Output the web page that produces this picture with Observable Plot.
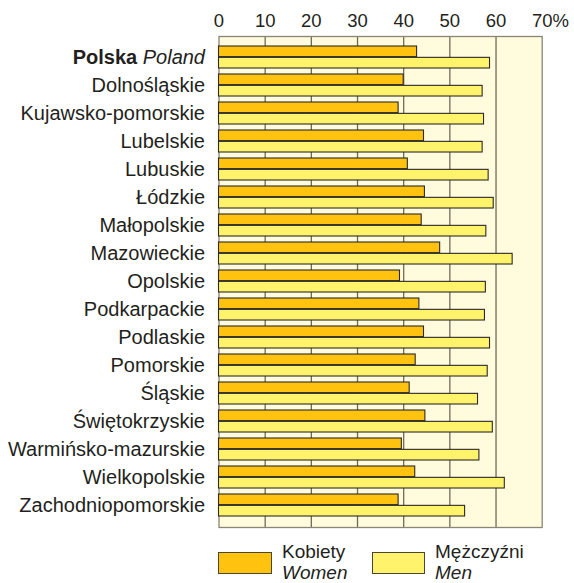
<!DOCTYPE html>
<html><head><meta charset="utf-8">
<script src="https://cdn.jsdelivr.net/npm/d3@7"></script>
<script src="https://cdn.jsdelivr.net/npm/@observablehq/plot@0.6"></script>
<style>
body{margin:0;background:#fff;font-family:"Liberation Sans",Arial,Helvetica,sans-serif;color:#231f20;}
#wrap{position:relative;width:574px;height:583px;overflow:hidden}
#chart svg{display:block}
.sw{position:absolute;top:552px;height:22px;box-sizing:border-box;border:1.3px solid #4a4536}
.lt{position:absolute;top:541px;font-size:19px;line-height:21px;color:#231f20}
.lt i{display:block}
</style></head><body><div id="wrap"><div id="chart"></div><div id="legend"></div></div>
<script>
const regions = ["Polska Poland","Dolnośląskie","Kujawsko-pomorskie","Lubelskie","Lubuskie","Łódzkie","Małopolskie","Mazowieckie","Opolskie","Podkarpackie","Podlaskie","Pomorskie","Śląskie","Świętokrzyskie","Warmińsko-mazurskie","Wielkopolskie","Zachodniopomorskie"];
const women = [42.9, 40.0, 38.9, 44.4, 40.9, 44.6, 43.9, 47.9, 39.2, 43.4, 44.4, 42.6, 41.3, 44.7, 39.6, 42.5, 38.9];
const men = [58.7, 57.1, 57.4, 57.1, 58.4, 59.5, 57.9, 63.6, 57.8, 57.6, 58.7, 58.2, 56.1, 59.3, 56.4, 61.9, 53.3];
const xTicks = [0, 10, 20, 30, 40, 50, 60, 70];
const legendLabels = [["Kobiety", "Women"], ["Mężczyźni", "Men"]];
const colors = ["#FFC20E", "#FFF36B"];

const W = 574, H = 536, mL = 218.5, mR = 32.3, mT = 36, mB = 9;
const pIn = 0.2, pOut = 0.25;
const bw = (H - mT - mB) / (regions.length - pIn + 2 * pOut) * (1 - pIn);
const half = bw / 2;

const chart = Plot.plot({
  width: W, height: H, marginLeft: mL, marginRight: mR, marginTop: mT, marginBottom: mB,
  x: {domain: [0, 70], axis: null},
  y: {domain: regions, paddingInner: pIn, paddingOuter: pOut, axis: null},
  style: {fontFamily: '"Liberation Sans",Arial,Helvetica,sans-serif', color: "#231f20", background: "transparent", overflow: "visible"},
  marks: [
    Plot.frame({fill: "#FFFBDC", stroke: null}),
    Plot.ruleX(xTicks.filter(d => d > 0 && d < 70), {stroke: "#6f6a5c", strokeWidth: 1.3}),
    Plot.frame({stroke: "#8a8576", strokeWidth: 1.3}),
    Plot.barX(women, {x: d => d, y: (d, i) => regions[i], fill: colors[0], stroke: "#2a2a2a", strokeWidth: 1.1, insetBottom: half}),
    Plot.barX(men, {x: d => d, y: (d, i) => regions[i], fill: colors[1], stroke: "#2a2a2a", strokeWidth: 1.1, insetTop: half}),
    Plot.axisY({tickSize: 0, tickPadding: 14, fontSize: 20, fill: "#231f20"}),
    Plot.text(xTicks, {x: d => d, text: d => String(d), frameAnchor: "top", dy: -10, lineAnchor: "bottom", fontSize: 18.5, fill: "#231f20"}),
    Plot.text(["%"], {x: () => 70, text: d => d, frameAnchor: "top", dy: -10, dx: 10.3, textAnchor: "start", lineAnchor: "bottom", fontSize: 18.5, fill: "#231f20"})
  ]
});
document.getElementById("chart").appendChild(chart);

// Mixed bold/italic label for the national total
d3.select(chart).selectAll("text").each(function() {
  const t = d3.select(this);
  if (t.text() === regions[0]) {
    const [a, b] = regions[0].split(" ");
    t.text(null);
    t.append("tspan").attr("font-weight", "bold").text(a + " ");
    t.append("tspan").attr("font-style", "italic").text(b);
  }
});

const lg = document.getElementById("legend");
const pos = [[218, 54, 282], [371.7, 53.5, 435]];
legendLabels.forEach((l, i) => {
  const s = document.createElement("div");
  s.className = "sw";
  s.style.left = pos[i][0] + "px";
  s.style.width = pos[i][1] + "px";
  s.style.background = colors[i];
  lg.appendChild(s);
  const t = document.createElement("div");
  t.className = "lt";
  t.style.left = pos[i][2] + "px";
  t.innerHTML = l[0] + "<i>" + l[1] + "</i>";
  lg.appendChild(t);
});
</script></body></html>
